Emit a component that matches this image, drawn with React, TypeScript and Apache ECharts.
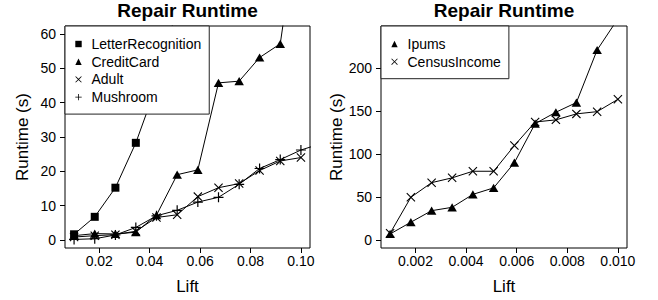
import React, { useEffect, useRef } from "react";
import * as echarts from "echarts";

const FONT = "'Liberation Sans', Arial, Helvetica, sans-serif";

// ---------- Left panel data ----------
const liftLeft = [0.01, 0.0182, 0.0264, 0.0345, 0.0427, 0.0509, 0.0591, 0.0673, 0.0755, 0.0836, 0.0918, 0.1];
const mushroomLift = [0.01, 0.0182, 0.0264, 0.0345, 0.0427, 0.0509, 0.0591, 0.0673, 0.0755, 0.0836, 0.0918, 0.1, 0.1082];
const letterRecognition = [1.6, 6.7, 15.2, 28.3, 45, 68, 92, 118, 145, 170, 195, 220];
const creditCard = [1.2, 1.8, 1.7, 2.2, 7.2, 19.0, 20.4, 45.8, 46.3, 53.2, 57.2, 99];
const adult = [0.8, 1.2, 1.5, 2.5, 6.5, 7.3, 12.6, 15.2, 16.4, 20.2, 23.0, 24.0];
const mushroom = [0.1, 0.3, 1.4, 3.6, 7.0, 8.6, 11.0, 12.4, 16.2, 20.8, 23.4, 26.2, 28.1];

const leftXTicks = [0.02, 0.04, 0.06, 0.08, 0.1];
const leftXLabels = ["0.02", "0.04", "0.06", "0.08", "0.10"];
const leftYTicks = [0, 10, 20, 30, 40, 50, 60];
const leftYLabels = ["0", "10", "20", "30", "40", "50", "60"];
const leftXRange = [0.0064, 0.1036];
const leftYRange = [-2.4, 62.4];

// ---------- Right panel data ----------
const liftRight = [0.001, 0.00182, 0.00264, 0.00345, 0.00427, 0.00509, 0.00591, 0.00673, 0.00755, 0.00836, 0.00918, 0.01];
const ipums = [6.8, 20.5, 34, 37.9, 53, 60.6, 90, 135.6, 148.9, 160.2, 221.6, 258];
const censusIncome = [7.6, 49.6, 66.7, 72.3, 80, 80, 110, 137.5, 140, 147, 149.6, 164];

const rightXTicks = [0.002, 0.004, 0.006, 0.008, 0.01];
const rightXLabels = ["0.002", "0.004", "0.006", "0.008", "0.010"];
const rightYTicks = [0, 50, 100, 150, 200];
const rightYLabels = ["0", "50", "100", "150", "200"];
const rightXRange = [0.00064, 0.01036];
const rightYRange = [-9.6, 249.6];

const TITLE = "Repair Runtime";

const CROSS_X =
  "path://M0.85,0L5,4.15L9.15,0L10,0.85L5.85,5L10,9.15L9.15,10L5,5.85L0.85,10L0,9.15L4.15,5L0,0.85Z";
const PLUS =
  "path://M4.4,0L5.6,0L5.6,4.4L10,4.4L10,5.6L5.6,5.6L5.6,10L4.4,10L4.4,5.6L0,5.6L0,4.4L4.4,4.4Z";

const pair = (xs: number[], ys: number[]) => ys.map((y, i) => [xs[i], y]);

const fmt = (ticks: number[], labels: string[]) => (v: number) => {
  const i = ticks.findIndex((t) => Math.abs(t - v) < 1e-9);
  return i >= 0 ? labels[i] : "";
};

const xAxisDef = (gridIndex: number, range: number[], ticks: number[], labels: string[]) => ({
  type: "value",
  gridIndex,
  min: range[0],
  max: range[1],
  axisLine: { show: false, onZero: false },
  axisTick: { show: true, length: 5, inside: false, lineStyle: { color: "#000", width: 1 }, customValues: ticks },
  axisLabel: {
    customValues: ticks,
    formatter: fmt(ticks, labels),
    margin: 6,
    color: "#000",
    fontSize: 14,
    fontFamily: FONT,
    hideOverlap: false,
  },
  splitLine: { show: false },
  name: "Lift",
  nameLocation: "middle",
  nameGap: 30,
  nameTextStyle: { fontSize: 17, color: "#000", fontFamily: FONT },
});

const yAxisDef = (gridIndex: number, range: number[], ticks: number[], labels: string[]) => ({
  type: "value",
  gridIndex,
  min: range[0],
  max: range[1],
  axisLine: { show: false, onZero: false },
  axisTick: { show: true, length: 5, inside: false, lineStyle: { color: "#000", width: 1 }, customValues: ticks },
  axisLabel: {
    customValues: ticks,
    formatter: fmt(ticks, labels),
    margin: 9,
    color: "#000",
    fontSize: 14,
    fontFamily: FONT,
    hideOverlap: false,
  },
  splitLine: { show: false },
  name: "Runtime (s)",
  nameLocation: "middle",
  nameGap: 34,
  nameTextStyle: { fontSize: 17, color: "#000", fontFamily: FONT },
});

const lineSeries = (name: string, xIdx: number, data: number[][], symbol: string, size: any) => ({
  type: "line",
  name,
  xAxisIndex: xIdx,
  yAxisIndex: xIdx,
  data,
  symbol,
  symbolSize: size,
  showSymbol: true,
  clip: true,
  lineStyle: { color: "#000", width: 1 },
  itemStyle: { color: "#000", borderWidth: 0 },
  emphasis: { disabled: true },
});

const legendDef = (left: number, names: string[]) => ({
  show: true,
  data: names,
  left,
  top: 26,
  orient: "vertical",
  padding: [11, 8, 10, 5.5],
  itemWidth: 16,
  itemHeight: 8,
  itemGap: 3.7,
  backgroundColor: "#fff",
  borderColor: "#222",
  borderWidth: 1,
  borderRadius: 0,
  selectedMode: false,
  lineStyle: { width: 0, opacity: 0 },
  textStyle: { fontSize: 14, color: "#000", fontFamily: FONT },
});

export default function App() {
  const ref = useRef<HTMLDivElement>(null);
  useEffect(() => {
    document.body.style.margin = "0";
    if (!ref.current) return;
    const chart = echarts.init(ref.current, null, { renderer: "svg" });
    chart.setOption({
      animation: false,
      backgroundColor: "#fff",
      graphic: [
        {
          type: "text",
          x: 187.5,
          y: 10.5,
          style: { text: TITLE, fill: "#000", font: `bold 19px ${FONT}`, textAlign: "center", textVerticalAlign: "middle" },
        },
        {
          type: "text",
          x: 504,
          y: 10.5,
          style: { text: TITLE, fill: "#000", font: `bold 19px ${FONT}`, textAlign: "center", textVerticalAlign: "middle" },
        },
      ],
      grid: [
        { left: 65, top: 26, width: 245, height: 228, show: true, borderColor: "#000", borderWidth: 1, backgroundColor: "transparent" },
        { left: 381, top: 26, width: 246, height: 228, show: true, borderColor: "#000", borderWidth: 1, backgroundColor: "transparent" },
      ],
      xAxis: [
        xAxisDef(0, leftXRange, leftXTicks, leftXLabels),
        xAxisDef(1, rightXRange, rightXTicks, rightXLabels),
      ],
      yAxis: [
        yAxisDef(0, leftYRange, leftYTicks, leftYLabels),
        yAxisDef(1, rightYRange, rightYTicks, rightYLabels),
      ],
      legend: [
        legendDef(65, ["LetterRecognition", "CreditCard", "Adult", "Mushroom"]),
        legendDef(381, ["Ipums", "CensusIncome"]),
      ],
      series: [
        lineSeries("LetterRecognition", 0, pair(liftLeft, letterRecognition), "rect", 8),
        lineSeries("CreditCard", 0, pair(liftLeft, creditCard), "triangle", [9.5, 8.2]),
        lineSeries("Adult", 0, pair(liftLeft, adult), CROSS_X, 9),
        lineSeries("Mushroom", 0, pair(mushroomLift, mushroom), PLUS, 10),
        lineSeries("Ipums", 1, pair(liftRight, ipums), "triangle", [9.5, 8.2]),
        lineSeries("CensusIncome", 1, pair(liftRight, censusIncome), CROSS_X, 9),
      ],
    });
    return () => chart.dispose();
  }, []);
  return <div ref={ref} style={{ width: 658, height: 300 }} />;
}
